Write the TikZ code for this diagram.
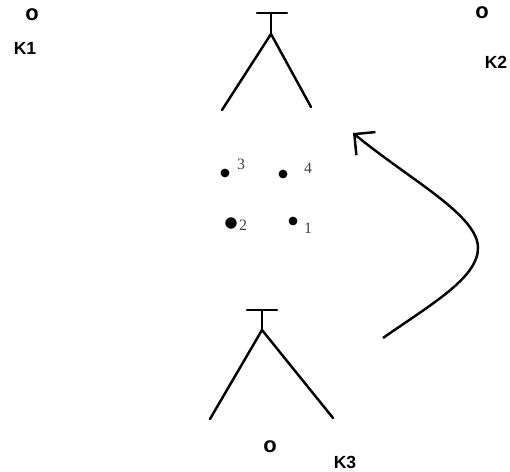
\documentclass[tikz,border=0pt]{standalone}
\usepackage{fontspec}
\setmainfont{Liberation Serif}
\newfontfamily\lsans{Liberation Sans}
\usetikzlibrary{arrows.meta}
\tikzset{
  px/.style={x=0.02cm,y=-0.02cm},
  stroke/.style={line width=1.4pt,line cap=round},
  klabel/.style={font=\lsans\bfseries\fontsize{10}{10}\selectfont,inner sep=0pt},
  ring/.style={font=\lsans\bfseries\fontsize{12.5}{12}\selectfont,inner sep=0pt},
  num/.style={font=\fontsize{9}{9}\selectfont,inner sep=0pt,text=black!75},
  pt/.style={circle,fill=black,inner sep=0pt,minimum size=5pt},
  bigpt/.style={circle,fill=black,inner sep=0pt,minimum size=6.5pt}
}
\begin{document}
\begin{tikzpicture}[px]
\useasboundingbox (0,0) rectangle (510,472);
% K labels
\node[ring] (o1) at (32,15) {o};
\node[klabel] (k1) at (25,48) {K1};
\node[ring] (o2) at (482,13) {o};
\node[klabel] (k2) at (496,62) {K2};
\node[ring] (o3) at (270,447) {o};
\node[klabel] (k3) at (345,462) {K3};
% top tripod
\coordinate (ta) at (257,13); \coordinate (tb) at (287,13);
\coordinate (ts) at (271,13); \coordinate (tj) at (271,34);
\coordinate (tl) at (222,110); \coordinate (tr) at (311,107);
\draw[stroke] (ta) -- (tb);
\draw[stroke] (ts) -- (tj);
\draw[stroke] (tl) -- (tj) -- (tr);
% bottom tripod
\coordinate (ba) at (247,310); \coordinate (bb) at (277,310);
\coordinate (bs) at (262,310); \coordinate (bj) at (262,330);
\coordinate (bl) at (210,419); \coordinate (br) at (333,418);
\draw[stroke] (ba) -- (bb);
\draw[stroke] (bs) -- (bj);
\draw[stroke] (bl) -- (bj) -- (br);
% points
\node[pt] (p3) at (225,173) {};
\node[num] (l3) at (241,164) {3};
\node[pt] (p4) at (283,174) {};
\node[num] (l4) at (308,168) {4};
\node[bigpt] (p2) at (231,223) {};
\node[num] (l2) at (243,225) {2};
\node[pt] (p1) at (293,221) {};
\node[num] (l1) at (308,228) {1};
% curved arrow
\coordinate (cs) at (383,338);
\coordinate (cp) at (478,248);
\coordinate (ce) at (353,133);
\draw[line width=1.4pt,-{Straight Barb[length=3mm,width=6mm,line width=1.4pt]}]
  (cs) .. controls (430,305) and (478,278) .. (cp)
       .. controls (478,215) and (410,180) .. (ce);
\end{tikzpicture}
\end{document}
